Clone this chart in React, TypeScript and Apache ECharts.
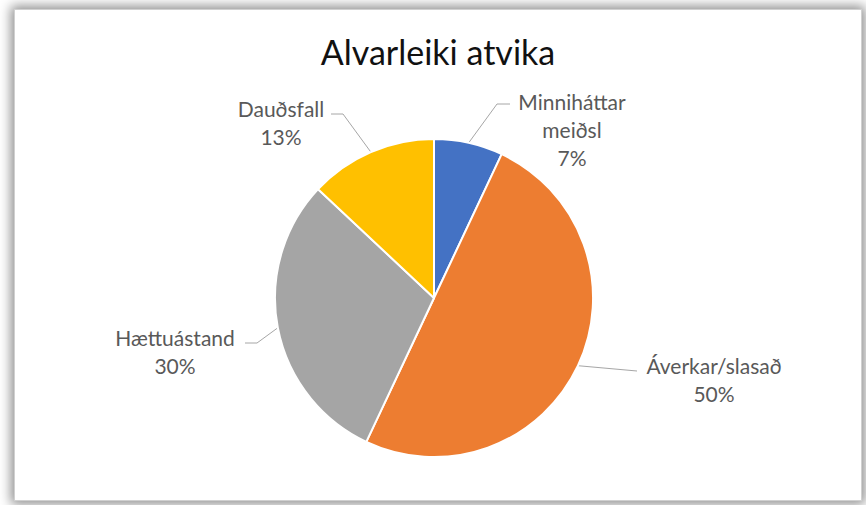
import React, { useEffect, useRef } from "react";
import * as echarts from "echarts";

const categories = ["Minniháttar meiðsl", "Áverkar/slasað", "Hættuástand", "Dauðsfall"];
const values = [7, 50, 30, 13];
const colors = ["#4472C4", "#ED7D31", "#A5A5A5", "#FFC000"];
const titleText = "Alvarleiki atvika";

// layout (chart-div pixel coordinates)
const CX = 419;
const CY = 288;
const R = 159;
// per-slice: bend point, end of leader, label (center x, top y)
const leaderLayout = [
  { bend: [482, 94], end: [495, 94], label: [557, 77] },
  { bend: [622, 361], end: [622, 361], label: [699, 341] },
  { bend: [242, 333], end: [230, 333], label: [160, 313] },
  { bend: [328, 104], end: [316, 104], label: [266, 84] },
];

export default function App() {
  const ref = useRef<HTMLDivElement>(null);
  useEffect(() => {
    if (!ref.current) return;
    const chart = echarts.init(ref.current, undefined, { renderer: "svg" });
    const total = values.reduce((a, b) => a + b, 0);
    const mids: number[] = [];
    let acc = 0;
    values.forEach((v) => {
      mids.push(((acc + v / 2) / total) * Math.PI * 2);
      acc += v;
    });
    chart.setOption({
      animation: false,
      backgroundColor: "#ffffff",
      title: {
        text: titleText,
        left: "center",
        top: 19,
        textStyle: {
          fontFamily: "Lato",
          fontSize: 34,
          fontWeight: "normal",
          color: "#111111",
        },
      },
      series: [
        {
          type: "pie",
          center: [CX, CY],
          radius: [0, R],
          startAngle: 90,
          clockwise: true,
          color: colors,
          itemStyle: { borderColor: "#ffffff", borderWidth: 2 },
          label: {
            show: true,
            position: "outside",
            fontFamily: "Lato",
            fontSize: 21,
            lineHeight: 28,
            color: "#595959",
            align: "center",
            formatter: (p: any) =>
              p.name.replace(" ", "\n") + "\n" + Math.round(p.percent) + "%",
          },
          labelLine: {
            show: true,
            lineStyle: { color: "#a6a6a6", width: 1 },
          },
          labelLayout: (params: any) => {
            const i = params.dataIndex;
            const l = leaderLayout[i];
            const a = mids[i];
            const sx = CX + R * Math.sin(a);
            const sy = CY - R * Math.cos(a);
            return {
              x: l.label[0],
              y: l.label[1],
              align: "center",
              verticalAlign: "top",
              labelLinePoints: [
                [sx, sy],
                l.bend,
                l.end,
              ],
            };
          },
          data: categories.map((name, i) => ({ name, value: values[i] })),
        },
      ],
    });
    return () => chart.dispose();
  }, []);

  return (
    <div
      style={{
        position: "fixed",
        left: 0,
        top: 0,
        width: 866,
        height: 505,
        overflow: "hidden",
        background: "#ffffff",
      }}
    >
      <div
        style={{
          position: "absolute",
          left: 14,
          top: 9,
          width: 848,
          height: 492,
          boxSizing: "border-box",
          border: "1px solid #d0d0d0",
          boxShadow: "0 0 11px 3px rgba(0,0,0,0.45)",
          background: "#ffffff",
        }}
      >
        <div ref={ref} style={{ width: 846, height: 490 }} />
      </div>
    </div>
  );
}
